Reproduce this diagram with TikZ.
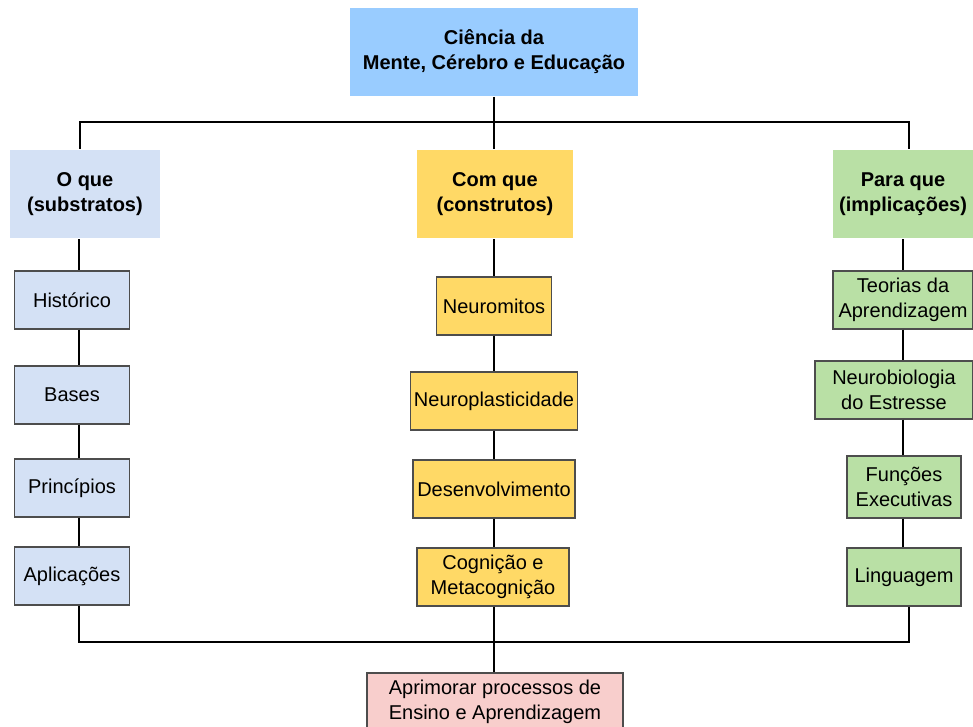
\documentclass[tikz,border=0pt]{standalone}
\usepackage{fontspec}
\setmainfont{Liberation Sans}
\usetikzlibrary{positioning, calc}
\definecolor{ctop}{HTML}{99CCFF}
\definecolor{cblue}{HTML}{D4E1F5}
\definecolor{cyellow}{HTML}{FFD966}
\definecolor{cgreen}{HTML}{B9E0A5}
\definecolor{cpink}{HTML}{F8CECC}
\definecolor{cgrey}{HTML}{4D4D4D}
\tikzset{
  every picture/.style={font=\fontsize{20}{25}\selectfont, line width=2pt},
  head/.style={fill=#1, align=center, inner sep=2pt, minimum height=88pt, font=\fontsize{20}{25}\selectfont\bfseries},
  item/.style={draw=cgrey, fill=#1, line width=1.2pt, align=center, inner sep=2pt, minimum height=58pt},
  link/.style={draw=black, line width=2.2pt},
}

\begin{document}
\begin{tikzpicture}[x=1pt,y=-1pt]
  \useasboundingbox (0,0) rectangle (973,727);
  % top and the three headers
  \node[head=ctop, minimum width=288pt] (top) at (494,52) {Ciência da\\Mente, Cérebro e Educação};
  \node[head=cblue, minimum width=150pt] (hO) at (85,194) {O que\\(substratos)};
  \node[head=cyellow, minimum width=156pt] (hC) at (495,194) {Com que\\(construtos)};
  \node[head=cgreen, minimum width=140pt] (hP) at (903,194) {Para que\\(implicações)};
  % left column
  \node[item=cblue, minimum width=115pt] (hist) at (72,300) {Histórico};
  \node[item=cblue, minimum width=115pt] (bases) at (72,395) {Bases};
  \node[item=cblue, minimum width=115pt] (princ) at (72,488) {Princípios};
  \node[item=cblue, minimum width=115pt] (aplic) at (72,576) {Aplicações};
  % middle column
  \node[item=cyellow, minimum width=115pt] (mitos) at (494,306) {Neuromitos};
  \node[item=cyellow, minimum width=167pt] (plast) at (494,401) {Neuroplasticidade};
  \node[item=cyellow, minimum width=162pt] (desenv) at (494,489) {Desenvolvimento};
  \node[item=cyellow, minimum width=152pt] (cogn) at (493,577) {Cognição e\\Metacognição};
  % right column
  \node[item=cgreen, minimum width=140pt] (teor) at (903,300) {Teorias da\\Aprendizagem};
  \node[item=cgreen, minimum width=158pt] (neuro) at (894,390) {Neurobiologia\\do Estresse};
  \node[item=cgreen, minimum width=114pt, minimum height=62pt] (func) at (904,487) {Funções\\Executivas};
  \node[item=cgreen, minimum width=114pt] (ling) at (904,577) {Linguagem};
  % bottom
  \node[item=cpink, minimum width=256pt] (final) at (495,702) {Aprimorar processos de\\Ensino e Aprendizagem};

  \coordinate (tl) at (80,122);
  \coordinate (tr) at (909,122);
  \coordinate (bl) at (79,642);
  \coordinate (br) at (909,642);
  \coordinate (xr) at (903,0);

  \draw[link] (top.south) -- (hC.north -| top);
  \draw[link] (hO.north -| tl) -- (tl) -- (tr) -- (hP.north -| tr);
  \foreach \a/\b in {hO/hist, hist/bases, bases/princ, princ/aplic}
    \draw[link] (\a.south -| bl) -- (\b.north -| bl);
  \foreach \a/\b in {hC/mitos, mitos/plast, plast/desenv, desenv/cogn}
    \draw[link] (\a.south -| top) -- (\b.north -| top);
  \foreach \a/\b in {hP/teor, teor/neuro, neuro/func, func/ling}
    \draw[link] (\a.south -| xr) -- (\b.north -| xr);
  \draw[link] (aplic.south -| bl) -- (bl) -- (br) -- (ling.south -| br);
  \draw[link] (cogn.south -| top) -- (final.north -| top);
\end{tikzpicture}
\end{document}
